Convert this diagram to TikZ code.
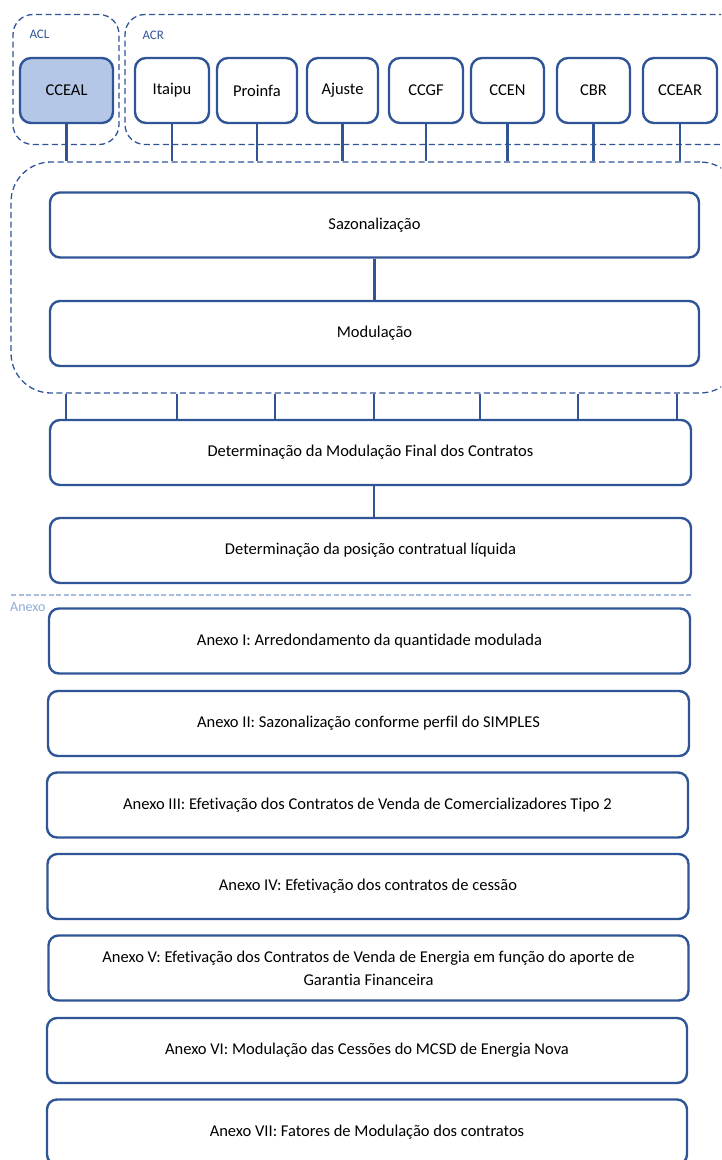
\documentclass[tikz,border=0pt]{standalone}
\usepackage{fontspec}
\setmainfont{Carlito}[Ligatures=NoCommon]
\definecolor{borda}{RGB}{47,85,151}
\definecolor{azulclaro}{RGB}{180,199,231}
\definecolor{anexolinha}{RGB}{168,188,222}
\definecolor{anexotexto}{RGB}{143,170,214}

\begin{document}
\begin{tikzpicture}[x=1pt,y=-1pt,font=\fontsize{16.5}{20}\selectfont]
\useasboundingbox (0,0) rectangle (721,1160);
\clip (0,0) rectangle (721,1160);
% grupos tracejados
\begin{scope}[every node/.style={draw=borda,line width=1.3pt,dash pattern=on 6pt off 3.5pt,inner sep=0pt}]
    \node[rounded corners=20pt,minimum width=106pt,minimum height=130pt] (acl) at (66,79.5) {};
    \node[rounded corners=20pt,minimum width=620pt,minimum height=130pt] (acr) at (435,79.5) {};
    \node[rounded corners=40pt,minimum width=729pt,minimum height=231pt] (grupo) at (375.5,277.5) {};
\end{scope}
\node[anchor=west,text=borda,font=\fontsize{13}{15}\selectfont] (rotacl) at (26,34) {ACL};
\node[anchor=west,text=borda,font=\fontsize{13}{15}\selectfont] (rotacr) at (139,35) {ACR};
% contratos
\begin{scope}[every node/.style={draw=borda,line width=2.4pt,rounded corners=11pt,minimum height=65pt,inner sep=0pt}]
    \node[fill=azulclaro,minimum width=93pt] (cceal) at (66.5,90.5) {CCEAL};
    \node[minimum width=74pt] (itaipu) at (172,90.5) {Itaipu};
    \node[minimum width=80pt] (proinfa) at (257,90.5) {Proinfa};
    \node[minimum width=71pt] (ajuste) at (342.5,90.5) {Ajuste};
    \node[minimum width=74pt] (ccgf) at (426,90.5) {CCGF};
    \node[minimum width=73pt] (ccen) at (507.5,90.5) {CCEN};
    \node[minimum width=73pt] (cbr) at (593.5,90.5) {CBR};
    \node[minimum width=74pt] (ccear) at (680,90.5) {CCEAR};
\end{scope}
% etapas
\begin{scope}[every node/.style={draw=borda,line width=2.4pt,rounded corners=10pt,minimum height=65pt,inner sep=0pt,align=center}]
    \node[minimum width=649pt] (saz) at (374.5,225) {Sazonalização};
    \node[minimum width=649pt] (mod) at (374.5,333.5) {Modulação};
    \node[minimum width=641pt] (det) at (370.5,452.5) {Determinação da Modulação Final dos Contratos};
    \node[minimum width=641pt] (pos) at (370.5,550.5) {Determinação da posição contratual líquida};
    \node[minimum width=641pt] (an1) at (369.5,641) {Anexo I: Arredondamento da quantidade modulada};
    \node[minimum width=641pt] (an2) at (368.5,723.5) {Anexo II: Sazonalização conforme perfil do SIMPLES};
    \node[minimum width=641pt] (an3) at (367.5,805) {Anexo III: Efetivação dos Contratos de Venda de Comercializadores Tipo 2};
    \node[minimum width=641pt] (an4) at (368,886.5) {Anexo IV: Efetivação dos contratos de cessão};
    \node[minimum width=640pt] (an5) at (368.5,968) {Anexo V: Efetivação dos Contratos de Venda de Energia em função do aporte de\\[3pt]Garantia Financeira};
    \node[minimum width=640pt] (an6) at (367,1050.5) {Anexo VI: Modulação das Cessões do MCSD de Energia Nova};
    \node[minimum width=640pt] (an7) at (367,1132) {Anexo VII: Fatores de Modulação dos contratos};
\end{scope}
% separador do anexo
\coordinate (sepini) at (11,595);
\coordinate (sepfim) at (691,595);
\draw[anexolinha,line width=1.6pt,dash pattern=on 5pt off 2.5pt] (sepini) -- (sepfim);
\node[anchor=west,inner sep=0pt,text=anexotexto,font=\fontsize{14}{16}\selectfont] (rotanexo) at (10,607) {Anexo};
% ligacoes
\begin{scope}[every edge/.style={draw=borda,line width=2.4pt}]
    \foreach \c in {cceal,itaipu,proinfa,ajuste,ccgf,ccen,cbr,ccear}
        \path (\c) edge (\c.south |- grupo.north);
    \path (saz) edge (mod);
    \foreach \x in {66,177,275,374,480,578,677}
        \path (\x,0 |- grupo.south) edge (\x,0 |- det.north);
    \path (374,0 |- det.south) edge (374,0 |- pos.north);
\end{scope}
\end{tikzpicture}
\end{document}
